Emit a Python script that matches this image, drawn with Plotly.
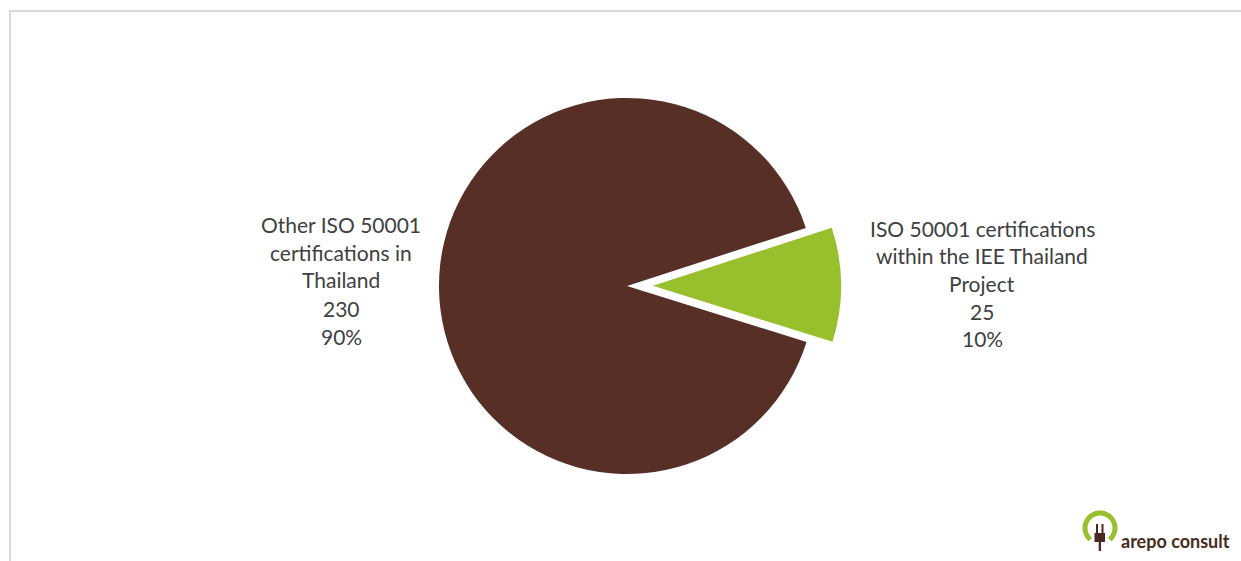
import numpy as np
import plotly.graph_objects as go

W, H = 1241, 561

# ---- data ----
labels = ["ISO 50001 certifications within the IEE Thailand Project",
          "Other ISO 50001 certifications in Thailand"]
values = [25, 230]
colors = ["#98BF2C", "#572F27"]
pulls = [0.138, 0]

right_lines = ["ISO 50001 certifications", "within the IEE Thailand", "Project", "25", "10%"]
left_lines = ["Other ISO 50001", "certifications in", "Thailand", "230", "90%"]


def px(x):
    return x / W


def py(y):
    return 1 - y / H


cx, cy, half = 627, 286, 214

fig = go.Figure(go.Pie(
    labels=labels, values=values, sort=False, direction="clockwise",
    rotation=72, pull=pulls, textinfo="none", hoverinfo="label+value+percent",
    marker=dict(colors=colors, line=dict(width=0)),
    domain=dict(x=[px(cx - half), px(cx + half)], y=[py(cy + half), py(cy - half)]),
    showlegend=False,
))

font = dict(family="Lato, 'Open Sans', sans-serif", size=21, color="#404040")
annotations = []
for i, t in enumerate(left_lines):
    annotations.append(dict(text=t, x=px(341), y=py(224 + i * 28), xref="paper", yref="paper",
                            showarrow=False, xanchor="center", yanchor="middle", font=font))
for i, t in enumerate(right_lines):
    annotations.append(dict(text=t, x=px(982), y=py(228 + i * 27.7), xref="paper", yref="paper",
                            showarrow=False, xanchor="center", yanchor="middle", font=font))

brown_logo = "#4A2A20"
annotations.append(dict(text="arepo consult", x=px(1119), y=py(541), xref="paper", yref="paper",
                        showarrow=False, xanchor="left", yanchor="middle",
                        font=dict(family="Lato, sans-serif", size=18, color=brown_logo, weight="bold")))

shapes = [dict(type="rect", xref="paper", yref="paper", x0=px(10), x1=1.02, y0=-0.02, y1=py(11),
               line=dict(color="#D9D9D9", width=2), fillcolor="rgba(0,0,0,0)", layer="below")]

# logo arc
ang = np.linspace(np.radians(-50), np.radians(230), 40)
lcx, lcy, lr = 1100, 528, 15
pts = [(px(lcx + lr * np.cos(a)), py(lcy - lr * np.sin(a))) for a in ang]
path = "M " + " L ".join(f"{x:.5f},{y:.5f}" for x, y in pts)
shapes.append(dict(type="path", path=path, xref="paper", yref="paper",
                   line=dict(color="#98BF2C", width=5)))
# plug
for x0, x1, y0, y1 in [(1096, 1098, 524, 533), (1101.5, 1103.5, 524, 533),
                       (1094.5, 1105, 533, 542), (1098.7, 1101, 541, 551)]:
    shapes.append(dict(type="rect", xref="paper", yref="paper", x0=px(x0), x1=px(x1),
                       y0=py(y1), y1=py(y0), fillcolor=brown_logo, line=dict(width=0)))

fig.update_layout(width=W, height=H, margin=dict(l=0, r=0, t=0, b=0),
                  paper_bgcolor="white", plot_bgcolor="white",
                  annotations=annotations, shapes=shapes)

fig.write_html("out.html", config={"displayModeBar": False},
               post_script="document.body.style.margin='0';document.body.style.overflow='hidden';")
